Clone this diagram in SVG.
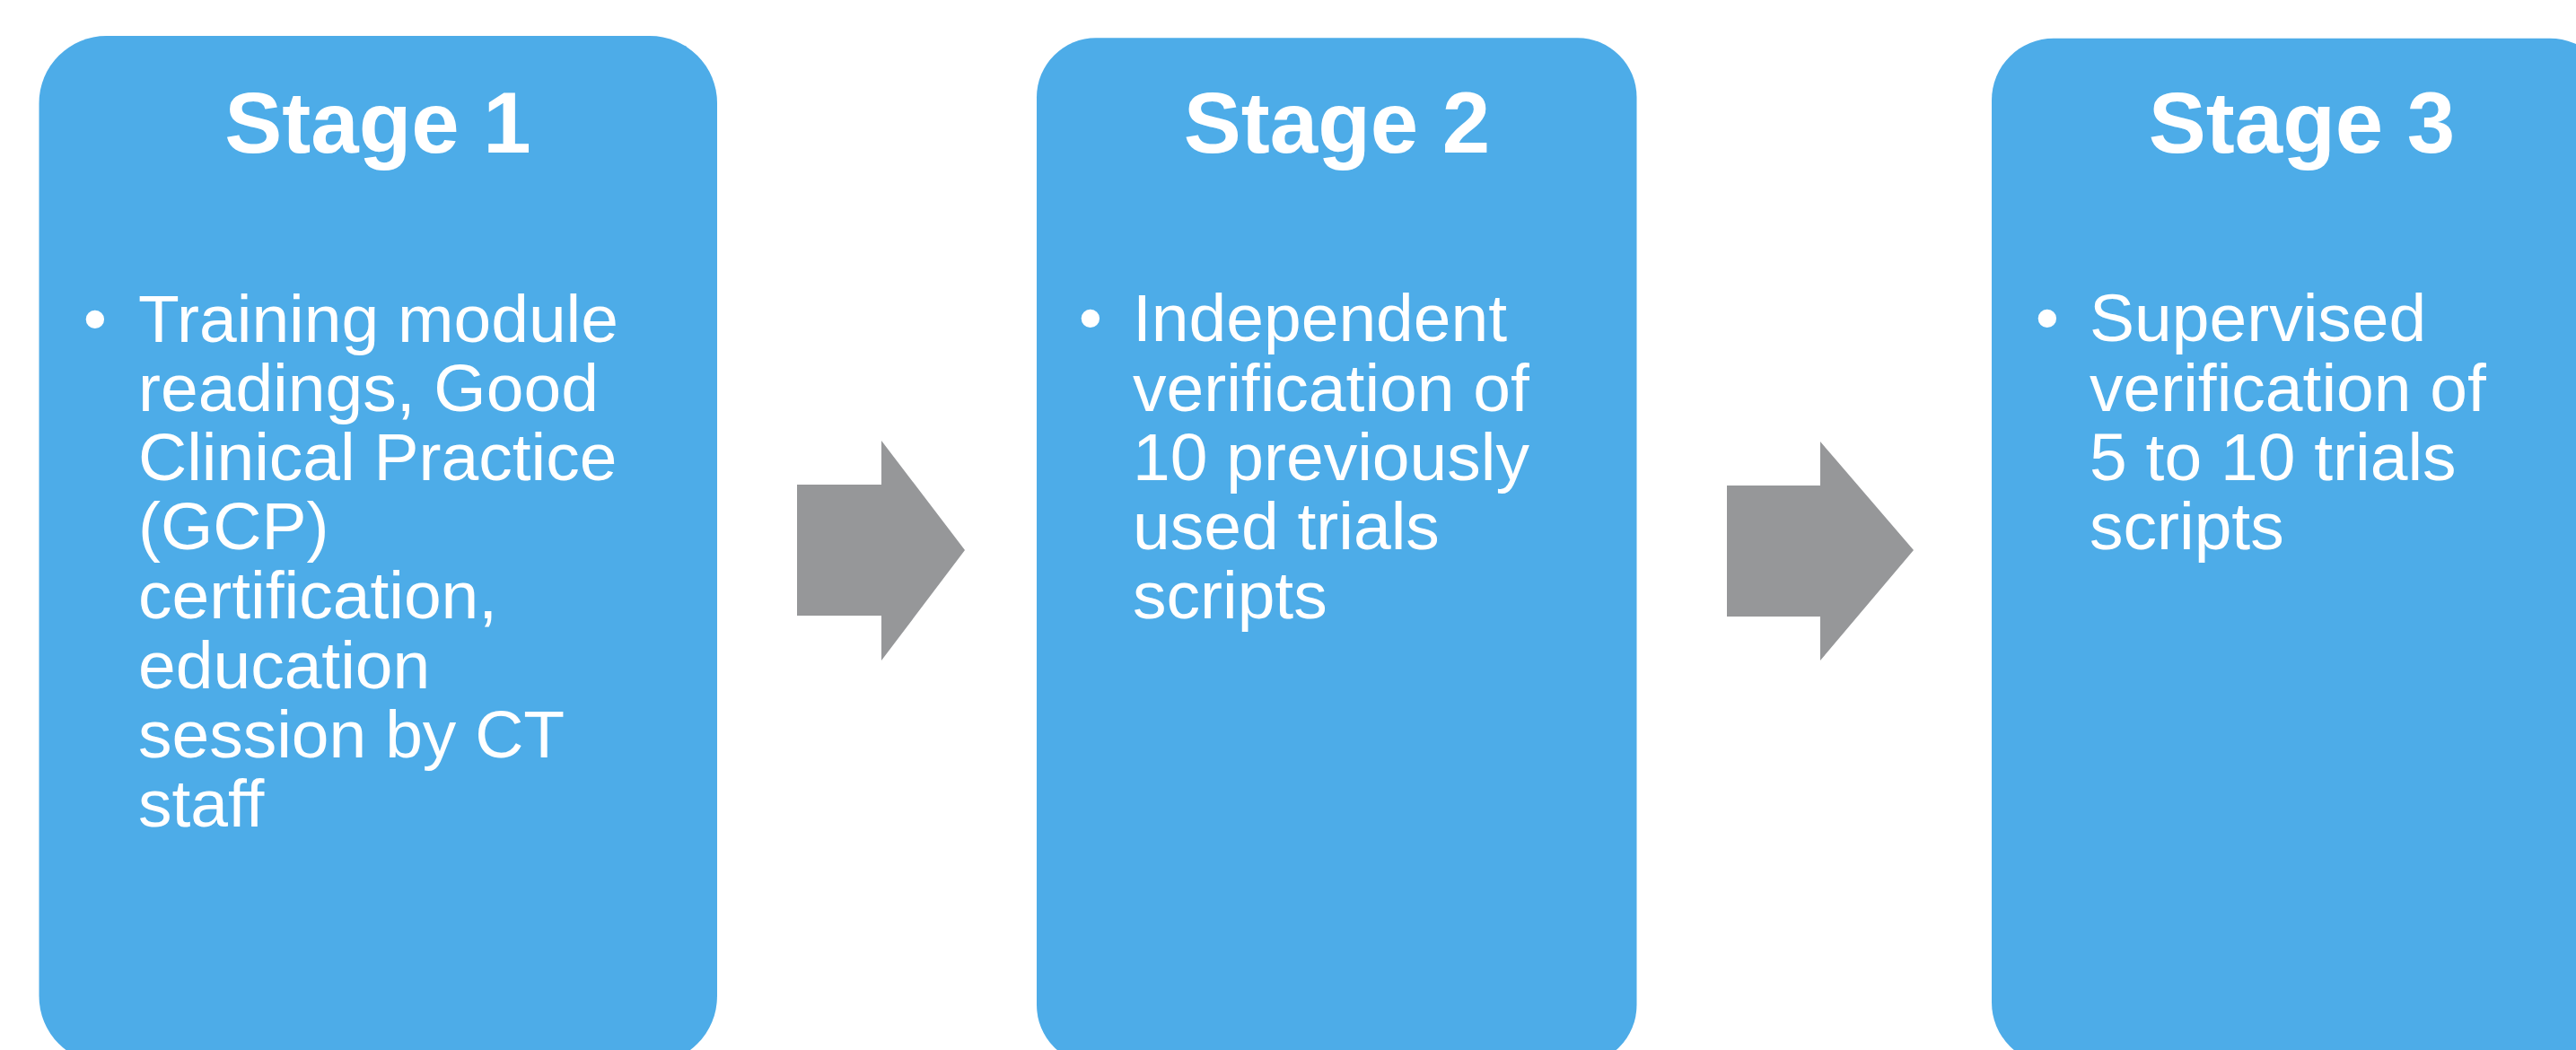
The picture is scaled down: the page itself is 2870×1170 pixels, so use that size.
<svg xmlns="http://www.w3.org/2000/svg" width="2870" height="1170" viewBox="0 0 2870 1170">
  <style>
    .box { fill: #4DACE8; }
    .arrow { fill: #969799; }
    .title { font-family: "Liberation Sans", Arial, sans-serif; font-weight: bold; font-size: 96px; fill: #FFFFFF; text-anchor: middle; }
    .body { font-family: "Liberation Sans", Arial, sans-serif; font-size: 75px; fill: #FFFFFF; }
    .bullet { font-family: "Liberation Sans", Arial, sans-serif; font-size: 75px; fill: #FFFFFF; text-anchor: middle; }
  </style>
  <rect x="0" y="0" width="2870" height="1170" fill="#FFFFFF"/>

  <g id="connectors">
    <polygon class="arrow" points="888,540 982,540 982,491 1075,613 982,736 982,686 888,686"/>
    <polygon class="arrow" points="1924,541 2028,541 2028,492 2132,613 2028,736 2028,687 1924,687"/>
  </g>

  <g id="stage1">
    <rect class="box" x="43.5" y="40" width="755.5" height="1145" rx="75" ry="75"/>
    <text class="title" x="421" y="169.5">Stage 1</text>
    <text class="bullet" x="106" y="381">•</text>
    <text class="body" x="154" y="381">Training module</text>
    <text class="body" x="154" y="458">readings, Good</text>
    <text class="body" x="154" y="535">Clinical Practice</text>
    <text class="body" x="154" y="612">(GCP)</text>
    <text class="body" x="154" y="689">certification,</text>
    <text class="body" x="154" y="767">education</text>
    <text class="body" x="154" y="844">session by CT</text>
    <text class="body" x="154" y="921">staff</text>
  </g>

  <g id="stage2">
    <rect class="box" x="1155" y="42.3" width="668.5" height="1143.7" rx="66" ry="66"/>
    <text class="title" x="1489.5" y="169.5">Stage 2</text>
    <text class="bullet" x="1215" y="380">•</text>
    <text class="body" x="1262" y="380">Independent</text>
    <text class="body" x="1262" y="457.7">verification of</text>
    <text class="body" x="1262" y="534.5">10 previously</text>
    <text class="body" x="1262" y="611.7">used trials</text>
    <text class="body" x="1262" y="688.8">scripts</text>
  </g>

  <g id="stage3">
    <rect class="box" x="2219" y="42.7" width="691" height="1143.3" rx="69" ry="69"/>
    <text class="title" x="2564.5" y="169.5">Stage 3</text>
    <text class="bullet" x="2281" y="380">•</text>
    <text class="body" x="2328" y="380">Supervised</text>
    <text class="body" x="2328" y="457.7">verification of</text>
    <text class="body" x="2328" y="534.5">5 to 10 trials</text>
    <text class="body" x="2328" y="611.7">scripts</text>
  </g>
</svg>
